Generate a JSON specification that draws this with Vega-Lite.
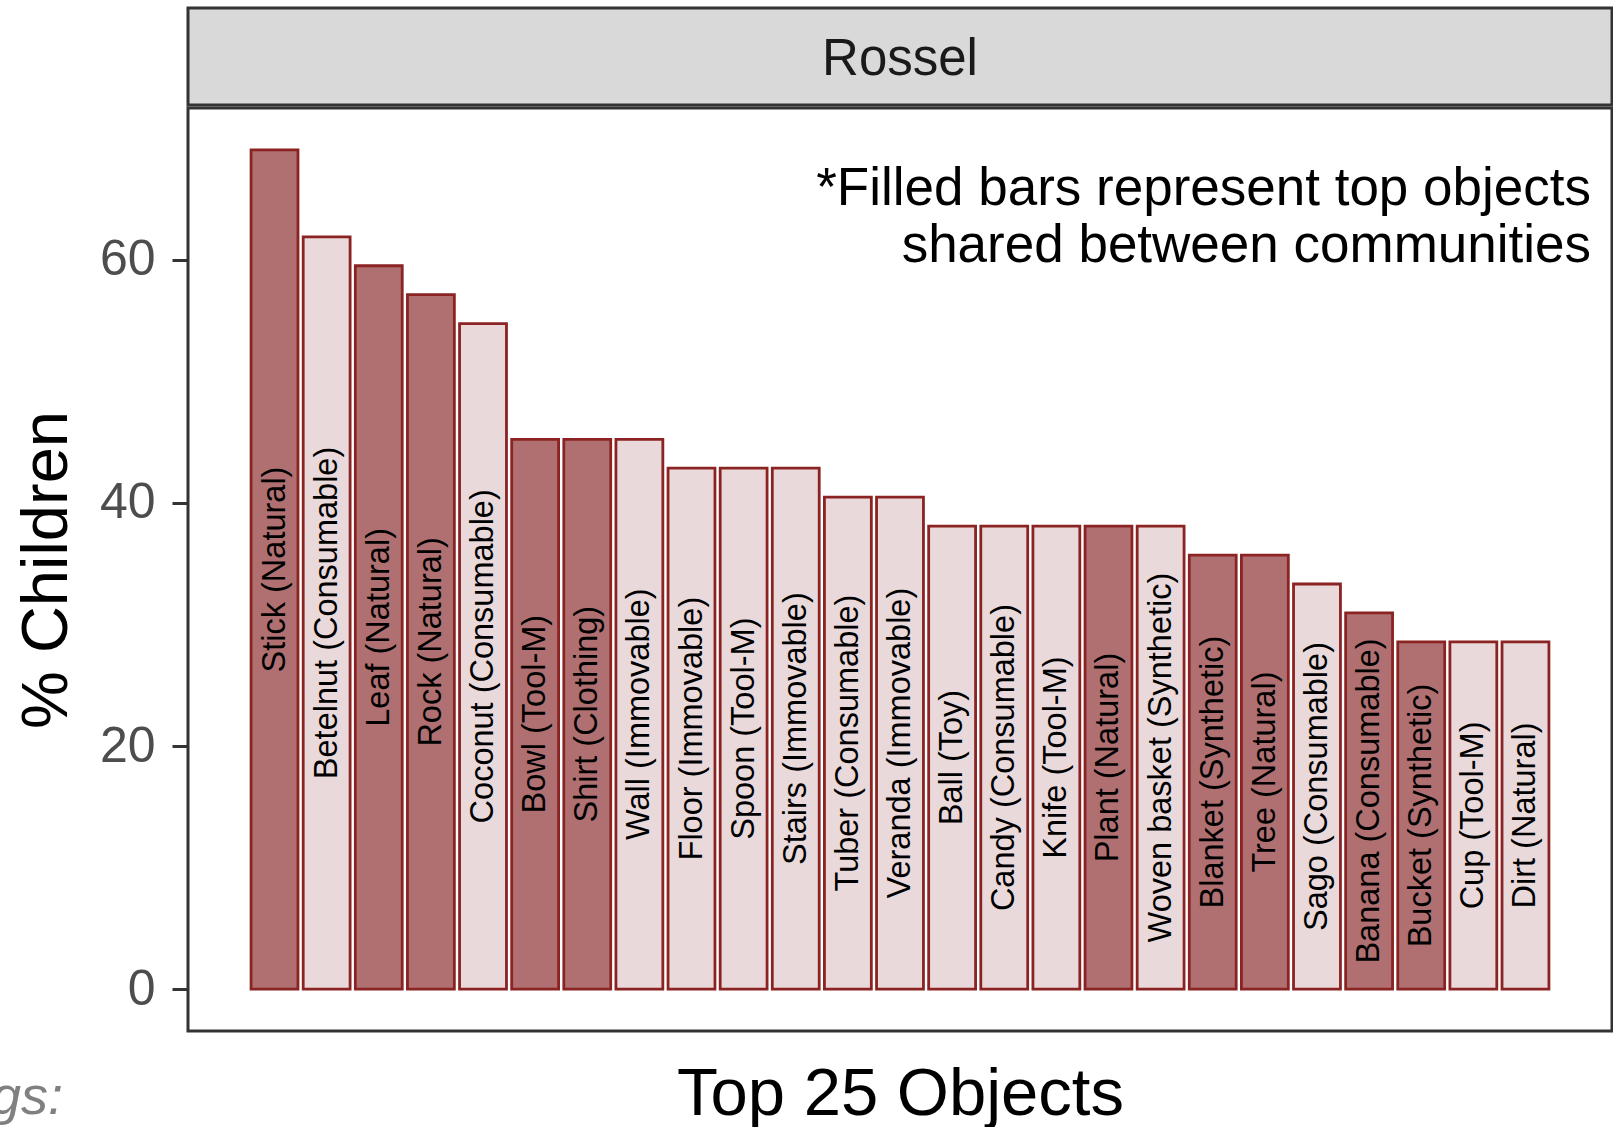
{
  "$schema": "https://vega.github.io/schema/vega-lite/v6.json",
  "background": "white",
  "padding": {"left": -10, "top": 6, "right": 0, "bottom": 0},
  "spacing": 3,
  "bounds": "flush",
  "config": {
    "font": "Liberation Sans",
    "title": {"fontWeight": "normal"},
    "axis": {"titleFontWeight": "normal"}
  },
  "title": {"text": "gs:", "orient": "bottom", "anchor": "start", "frame": "group", "align": "right", "baseline": "alphabetic", "dx": -125, "offset": -15, "fontSize": 54, "fontStyle": "italic", "color": "#808080", "fontWeight": "normal"},
  "vconcat": [
    {
      "width": 1424,
      "height": 97,
      "view": {"fill": "#D9D9D9", "stroke": "#333333", "strokeWidth": 3},
      "data": {"values": [{"community": "Rossel"}]},
      "mark": {"type": "text", "fontSize": 51, "color": "#1A1A1A", "baseline": "middle", "dy": 3},
      "encoding": {"text": {"field": "community", "type": "nominal"}}
    },
    {
      "width": 1424,
      "height": 923,
      "view": {"stroke": "#333333", "strokeWidth": 3, "fill": "white"},
      "title": {"text": ["*Filled bars represent top objects", "shared between communities"], "orient": "top", "anchor": "end", "frame": "group", "align": "right", "baseline": "alphabetic", "offset": -207, "dx": -21, "fontSize": 53, "lineHeight": 57, "color": "black", "fontWeight": "normal"},
      "data": {"values": [
        {"object": "Stick (Natural)", "pct": 69.05, "shared": "yes"},
        {"object": "Betelnut (Consumable)", "pct": 61.90, "shared": "no"},
        {"object": "Leaf (Natural)", "pct": 59.52, "shared": "yes"},
        {"object": "Rock (Natural)", "pct": 57.14, "shared": "yes"},
        {"object": "Coconut (Consumable)", "pct": 54.76, "shared": "no"},
        {"object": "Bowl (Tool-M)", "pct": 45.24, "shared": "yes"},
        {"object": "Shirt (Clothing)", "pct": 45.24, "shared": "yes"},
        {"object": "Wall (Immovable)", "pct": 45.24, "shared": "no"},
        {"object": "Floor (Immovable)", "pct": 42.86, "shared": "no"},
        {"object": "Spoon (Tool-M)", "pct": 42.86, "shared": "no"},
        {"object": "Stairs (Immovable)", "pct": 42.86, "shared": "no"},
        {"object": "Tuber (Consumable)", "pct": 40.48, "shared": "no"},
        {"object": "Veranda (Immovable)", "pct": 40.48, "shared": "no"},
        {"object": "Ball (Toy)", "pct": 38.10, "shared": "no"},
        {"object": "Candy (Consumable)", "pct": 38.10, "shared": "no"},
        {"object": "Knife (Tool-M)", "pct": 38.10, "shared": "no"},
        {"object": "Plant (Natural)", "pct": 38.10, "shared": "yes"},
        {"object": "Woven basket (Synthetic)", "pct": 38.10, "shared": "no"},
        {"object": "Blanket (Synthetic)", "pct": 35.71, "shared": "yes"},
        {"object": "Tree (Natural)", "pct": 35.71, "shared": "yes"},
        {"object": "Sago (Consumable)", "pct": 33.33, "shared": "no"},
        {"object": "Banana (Consumable)", "pct": 30.95, "shared": "yes"},
        {"object": "Bucket (Synthetic)", "pct": 28.57, "shared": "yes"},
        {"object": "Cup (Tool-M)", "pct": 28.57, "shared": "no"},
        {"object": "Dirt (Natural)", "pct": 28.57, "shared": "no"}
      ]},
      "encoding": {
        "x": {
          "field": "object", "type": "nominal", "sort": null,
          "scale": {"paddingInner": 0.1, "paddingOuter": 0, "range": [{"expr": "width * 1.21 / 27.32"}, {"expr": "width * (1 - 1.21 / 27.32)"}]},
          "axis": {"labels": false, "ticks": false, "domain": false, "grid": false, "title": "Top 25 Objects", "titleFontSize": 67, "titleColor": "black", "titlePadding": 30}
        }
      },
      "layer": [
        {
          "mark": {"type": "bar", "stroke": "#8B2323", "strokeWidth": 2.8},
          "encoding": {
            "y": {
              "field": "pct", "type": "quantitative",
              "scale": {"domain": [-3.4525, 72.5025], "nice": false, "zero": false},
              "axis": {"values": [0, 20, 40, 60], "domain": false, "grid": false, "tickSize": 16, "tickWidth": 3, "tickColor": "#333333", "labelFontSize": 50, "labelColor": "#4D4D4D", "labelPadding": 17, "title": "% Children", "titleFontSize": 65, "titleColor": "black", "titlePadding": 19}
            },
            "fill": {"field": "shared", "type": "nominal", "scale": {"domain": ["yes", "no"], "range": ["#B07071", "#E9D9DB"]}, "legend": null}
          }
        },
        {
          "mark": {"type": "text", "angle": 270, "align": "center", "baseline": "middle", "fontSize": 32.5, "color": "black"},
          "encoding": {
            "y": {"field": "pct", "type": "quantitative", "stack": "zero", "bandPosition": 0.5},
            "text": {"field": "object", "type": "nominal"}
          }
        }
      ]
    }
  ]
}
